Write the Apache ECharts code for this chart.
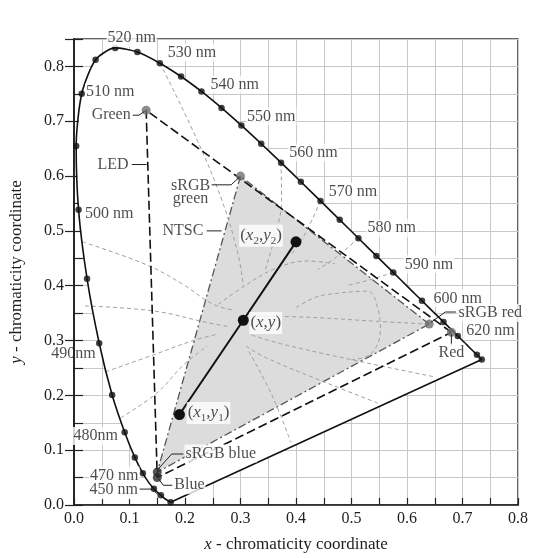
<!DOCTYPE html>
<html><head><meta charset="utf-8">
<script src="https://cdn.jsdelivr.net/npm/echarts@6/dist/echarts.min.js"></script>
<style>html,body{margin:0;padding:0;background:#fff}#c{width:540px;height:558px}</style>
</head><body><div id="c"></div>
<script>
// Spectral locus (wavelength nm, x, y)
const locusWavelengths = [380,440,450,460,465,470,475,480,485,490,495,500,505,510,515,520,525,530,535,540,545,550,555,560,565,570,575,580,585,590,595,600,605,610,620,630,640,650,700];
const locusX = [0.1741,0.1644,0.1566,0.1440,0.1355,0.1241,0.1096,0.0913,0.0687,0.0454,0.0235,0.0082,0.0039,0.0139,0.0389,0.0743,0.1142,0.1547,0.1929,0.2296,0.2658,0.3016,0.3373,0.3731,0.4087,0.4441,0.4788,0.5125,0.5448,0.5752,0.6029,0.6270,0.6482,0.6658,0.6915,0.7079,0.7190,0.7260,0.7347];
const locusY = [0.0050,0.0109,0.0177,0.0297,0.0399,0.0578,0.0868,0.1327,0.2007,0.2950,0.4127,0.5384,0.6548,0.7502,0.8120,0.8338,0.8262,0.8059,0.7816,0.7543,0.7243,0.6923,0.6589,0.6245,0.5896,0.5547,0.5202,0.4866,0.4544,0.4242,0.3965,0.3725,0.3514,0.3340,0.3083,0.2920,0.2809,0.2740,0.2653];
const markedWavelengths = [380,450,460,470,475,480,485,490,495,500,505,510,515,520,525,530,535,540,545,550,555,560,565,570,575,580,585,590,600,610,620,650,700];

// Gamut triangles (R, G, B)
const srgbX = [0.64, 0.30, 0.15];
const srgbY = [0.33, 0.60, 0.06];
const ledX = [0.68, 0.13, 0.15];
const ledY = [0.315, 0.72, 0.05];

// Mixing segment (x1,y1) - (x,y) - (x2,y2)
const segX = [0.19, 0.305, 0.40];
const segY = [0.165, 0.337, 0.48];

// Thin grey dashed guide curves (estimated)
const guideCurves = [
  [[0.155,0.806],[0.22,0.67],[0.265,0.56],[0.295,0.46],[0.305,0.40]],
  [[0.373,0.6245],[0.374,0.555],[0.362,0.49],[0.345,0.43]],
  [[0.444,0.5547],[0.415,0.492],[0.39,0.455]],
  [[0.5125,0.4866],[0.47,0.45],[0.44,0.43]],
  [[0.5752,0.4242],[0.53,0.41],[0.49,0.40]],
  [[0.015,0.48],[0.131,0.438],[0.197,0.402],[0.251,0.366],[0.29,0.355]],
  [[0.02,0.363],[0.143,0.354],[0.239,0.333],[0.28,0.325]],
  [[0.057,0.243],[0.149,0.276],[0.215,0.30],[0.26,0.312]],
  [[0.084,0.159],[0.149,0.204],[0.197,0.255],[0.24,0.29]],
  [[0.33,0.345],[0.433,0.342],[0.53,0.336],[0.636,0.33]],
  [[0.32,0.31],[0.373,0.294],[0.505,0.264],[0.648,0.234]],
  [[0.31,0.29],[0.343,0.27],[0.457,0.222],[0.547,0.186]],
  [[0.315,0.28],[0.355,0.204],[0.391,0.114]],
  [[0.26,0.366],[0.305,0.398],[0.36,0.43],[0.42,0.445],[0.47,0.44]],
  [[0.40,0.36],[0.433,0.378],[0.457,0.384],[0.529,0.39],[0.547,0.36],[0.552,0.318],[0.535,0.276],[0.50,0.265]]
];

// Annotation texts and anchors
const labelTexts = ['520 nm','530 nm','540 nm','550 nm','560 nm','570 nm','580 nm','590 nm','600 nm','sRGB red','620 nm','Red','510 nm','500 nm','490nm','480nm','470 nm','450 nm','Green','LED','sRGB\ngreen','NTSC','{p|(}{i|x}{s|2}{p|,}{i|y}{s|2}{p|)}','{p|(}{i|x}{p|,}{i|y}{p|)}','{p|(}{i|x}{s|1}{p|,}{i|y}{s|1}{p|)}','sRGB blue','Blue'];
const labelAnchors = [[0.104,0.852],[0.167,0.825],[0.244,0.767],[0.310,0.709],[0.386,0.643],[0.457,0.572],[0.527,0.505],[0.594,0.439],[0.646,0.377],[0.691,0.350],[0.705,0.318],[0.68,0.278],[0.020,0.753],[0.018,0.532],[0.041,0.276],[0.081,0.126],[0.118,0.054],[0.117,0.027],[0.104,0.711],[0.100,0.621],[0.210,0.570],[0.235,0.500],[0.337,0.491],[0.316,0.332],[0.203,0.168],[0.199,0.094],[0.179,0.036]];
const labelAligns = ['center','left','left','left','left','left','left','left','left','left','left','center','left','left','right','right','right','right','right','right','center','right','center','left','left','left','left'];

const leaders = [
  [[0.118,0.029],[0.139,0.029],[0.152,0.019]],
  [[0.106,0.711],[0.117,0.711],[0.127,0.718]],
  [[0.104,0.621],[0.131,0.621]],
  [[0.248,0.584],[0.283,0.584],[0.298,0.598]],
  [[0.239,0.50],[0.266,0.50]],
  [[0.152,0.066],[0.176,0.093],[0.197,0.093]],
  [[0.152,0.048],[0.161,0.036],[0.177,0.036]],
  [[0.643,0.333],[0.669,0.352],[0.688,0.352]],
  [[0.68,0.312],[0.68,0.291]]
];

const F = '"Liberation Serif", "Times New Roman", serif';
const INK = '#1e1e1e';
const locusPts = locusX.map((x,i)=>[x, locusY[i]]);
const dotPts = markedWavelengths.map(w => { const i = locusWavelengths.indexOf(w); return [locusX[i], locusY[i]]; });
const tri = (X,Y)=>X.map((x,i)=>[x,Y[i]]);

const polySeries = (pts, fill, stroke, dash, z, smooth) => ({
  type:'custom', z:z, silent:true, clip:false,
  data:[[pts[0][0], pts[0][1]]],
  renderItem:(params, api) => ({
    type:'polygon',
    shape:{points: pts.map(p=>api.coord(p)), smooth: smooth||0},
    style:{fill: fill, stroke: stroke||null, lineWidth: 1.3, lineDash: dash||null}
  })
});

const rich = {
  p:{fontFamily:F, fontSize:17, lineHeight:22, verticalAlign:'middle', color:INK},
  i:{fontFamily:F, fontSize:17, fontStyle:'italic', lineHeight:22, verticalAlign:'middle', color:INK},
  s:{fontFamily:F, fontSize:11, lineHeight:11, verticalAlign:'bottom', color:INK}
};

const series = [];
series.push(polySeries(locusPts, '#ffffff', null, null, 1, 0));
series.push(polySeries(tri(srgbX,srgbY), '#dcdcdc', '#555', [8,3,2,3], 2, 0));
guideCurves.forEach(c => series.push({
  type:'line', data:c, smooth:0.4, symbol:'none', z:3, silent:true,
  lineStyle:{color:'#a0a0a0', width:1, type:[4,3]}
}));
series.push({type:'line', data:[...tri(ledX,ledY), [ledX[0],ledY[0]]], symbol:'none', z:4,
  lineStyle:{color:'#111', width:1.6, type:[9,4]}});
series.push({type:'line', data:locusPts, smooth:0.25, symbol:'none', z:5,
  lineStyle:{color:'#111', width:1.6}});
series.push({type:'line', data:[locusPts[0], locusPts[locusPts.length-1]], symbol:'none', z:5,
  lineStyle:{color:'#111', width:1.6}});
series.push({type:'scatter', data:dotPts, symbolSize:6.5, z:6, itemStyle:{color:'#111'}});
series.push({type:'line', data:segX.map((x,i)=>[x,segY[i]]), symbol:'circle', symbolSize:11, z:6,
  lineStyle:{color:'#111', width:2}, itemStyle:{color:'#111'}});
series.push({type:'scatter', z:7, symbolSize:9,
  data:[[srgbX[0],srgbY[0]],[srgbX[1],srgbY[1]],[ledX[0],ledY[0]],[ledX[1],ledY[1]]],
  itemStyle:{color:'#6f6f6f'}});
series.push({type:'scatter', z:7, symbolSize:9,
  data:[[srgbX[2],srgbY[2]],[ledX[2],ledY[2]]], itemStyle:{color:'#2a2a2a'}});
leaders.forEach(l => series.push({type:'line', data:l, symbol:'none', z:8, silent:true,
  lineStyle:{color:'#222', width:1}}));
series.push({
  type:'scatter', z:9, clip:false, symbolSize:0, silent:true,
  data: labelTexts.map((t,i)=>({
    value: labelAnchors[i],
    label:{show:true, position:'inside', formatter:t, align:labelAligns[i], verticalAlign:'middle',
      fontFamily:F, fontSize:16, color:INK,
      backgroundColor: t === '490nm' ? 'transparent' : '#fff', padding:[0,1],
      lineHeight: t.indexOf('\n')>=0 ? 13 : 18, rich:rich}
  }))
});

const axisLine = {show:true, lineStyle:{color:'#222', width:1.6}};
const fmt = v => (Math.round(v*100) % 10 === 0) ? v.toFixed(1) : '';
const nameStyle = {fontFamily:F, fontSize:17, color:INK, rich:{i:{fontFamily:F, fontSize:17, fontStyle:'italic', color:INK}}};
const option = {
  animation:false,
  backgroundColor:'#fff',
  grid:{left:72, right:22, top:39, bottom:48, show:true, borderColor:'#333', borderWidth:1.5},
  xAxis:[{type:'value', min:0, max:0.8, interval:0.05, position:'bottom',
    axisLine:axisLine, axisTick:{inside:true, length:7, lineStyle:{color:'#222', width:1.2}},
    axisLabel:{formatter:fmt, fontFamily:F, fontSize:16, color:INK, margin:6},
    splitLine:{show:true, lineStyle:{color:'#c8c8c8', width:1}},
    name:'{i|x} - chromaticity coordinate', nameLocation:'middle', nameGap:31,
    nameTextStyle:nameStyle
  }],
  yAxis:[{type:'value', min:0, max:0.85, interval:0.05, position:'left',
    axisLine:axisLine, axisTick:{inside:true, length:9, lineStyle:{color:'#222', width:1.2}},
    axisLabel:{formatter:fmt, fontFamily:F, fontSize:16, color:INK, margin:10},
    splitLine:{show:true, lineStyle:{color:'#c8c8c8', width:1}},
    name:'{i|y} - chromaticity coordinate', nameLocation:'middle', nameGap:49, nameRotate:90,
    nameTextStyle:nameStyle
  },{type:'value', min:0, max:0.85, interval:0.1, position:'left',
    axisLine:axisLine, axisTick:{inside:false, length:9, lineStyle:{color:'#222', width:1.2}},
    axisLabel:{show:false}, splitLine:{show:false}
  }],
  series: series
};
const chart = echarts.init(document.getElementById('c'), null, {renderer:'canvas'});
chart.setOption(option);
</script></body></html>
